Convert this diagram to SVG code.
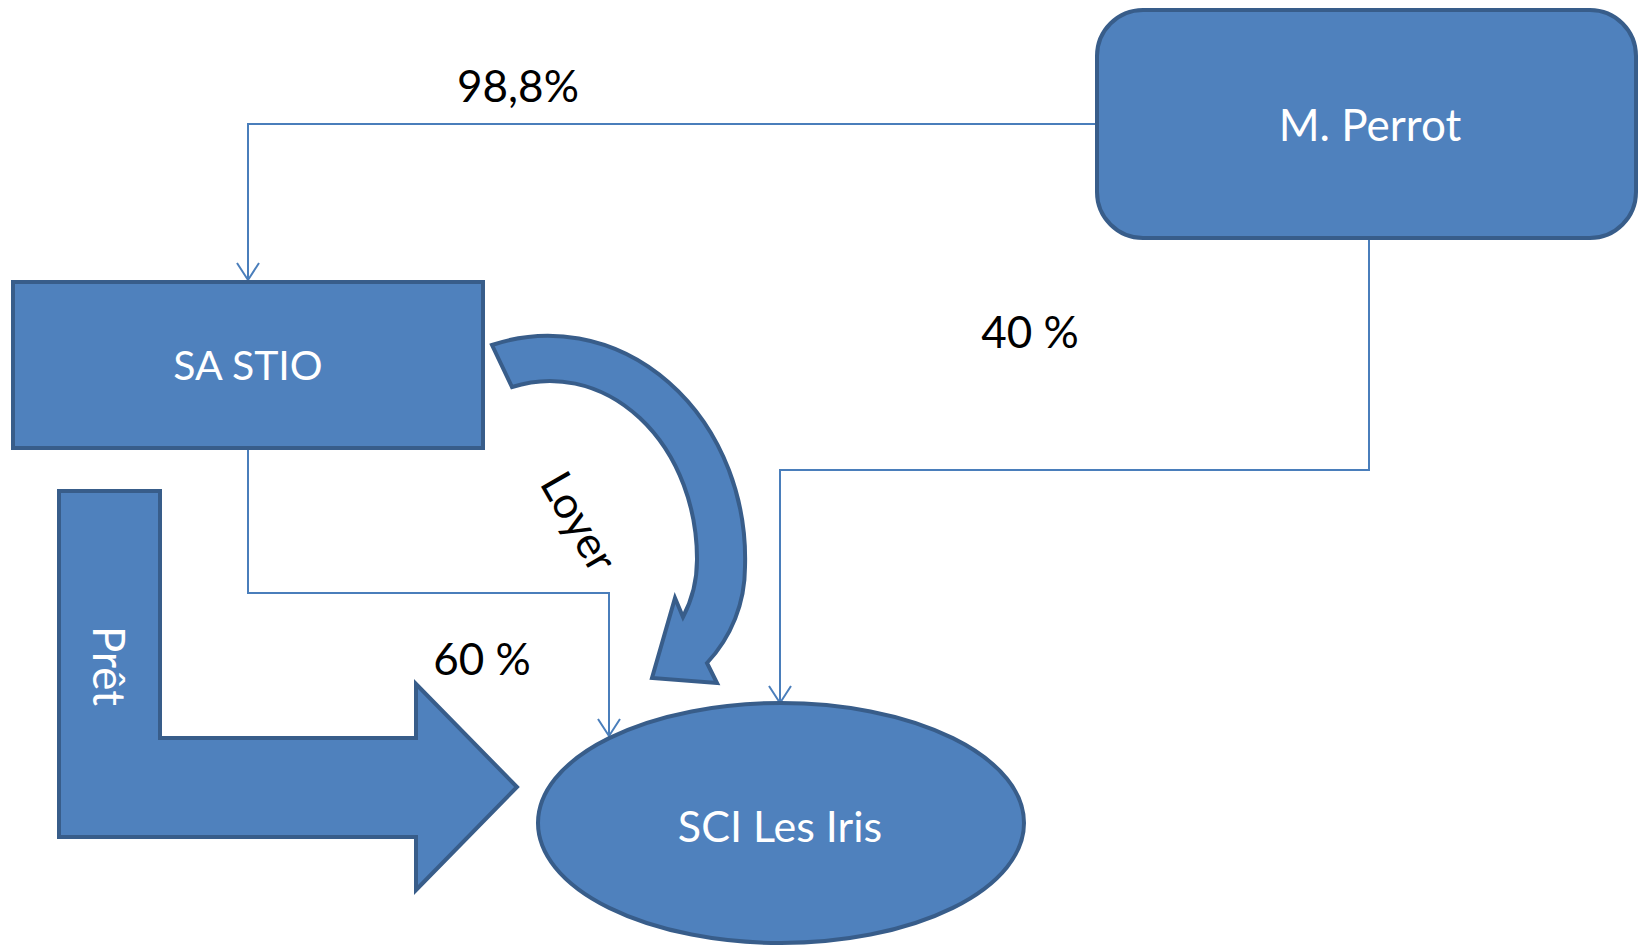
<svg xmlns="http://www.w3.org/2000/svg" width="1638" height="945" viewBox="0 0 1638 945">
  <style>
    .shape { fill: #4F81BD; stroke: #385D8A; stroke-width: 4; stroke-linejoin: miter; }
    .inner { font-family: Lato, "Open Sans", "Liberation Sans", sans-serif; font-size: 44px; fill: #FFFFFF; text-anchor: middle; }
    .label { font-family: Lato, "Open Sans", "Liberation Sans", sans-serif; font-size: 44px; fill: #000000; text-anchor: middle; }
    .link { fill: none; stroke: #4A7EBB; stroke-width: 2; }
  </style>
  <defs>
    <marker id="open-arrow" markerUnits="userSpaceOnUse" markerWidth="24" markerHeight="24" viewBox="0 0 20 24" refX="18" refY="12" orient="auto">
      <path d="M1,1 L18,12 L1,23" fill="none" stroke="#4A7EBB" stroke-width="2"/>
    </marker>
  </defs>
  <rect width="1638" height="945" fill="#FFFFFF"/>

  <!-- ownership links -->
  <g id="connectors">
    <path class="link" d="M1097,124 H248 V280" marker-end="url(#open-arrow)"/>
    <path class="link" d="M248,449 V593 H609 V736" marker-end="url(#open-arrow)"/>
    <path class="link" d="M1369,238 V470 H780 V703" marker-end="url(#open-arrow)"/>
    <text class="label" x="518" y="102">98,8%</text>
    <text class="label" x="1030" y="348">40 %</text>
    <text class="label" x="482" y="675">60 %</text>
  </g>

  <g id="m-perrot">
    <rect class="shape" x="1097" y="10" width="539" height="228" rx="46" ry="46"/>
    <text class="inner" x="1370" y="141">M. Perrot</text>
  </g>

  <g id="sa-stio">
    <rect class="shape" x="13" y="282" width="470" height="166"/>
    <text class="inner" x="248" y="380" style="font-size:41px">SA STIO</text>
  </g>

  <g id="sci-les-iris">
    <ellipse class="shape" cx="781" cy="823" rx="243" ry="120"/>
    <text class="inner" x="780" y="842" style="font-size:43px">SCI Les Iris</text>
  </g>

  <!-- loan: bent arrow -->
  <g id="pret">
    <polygon class="shape" points="59,491 160,491 160,738 416,738 416,684 517,787 416,890 416,837 59,837"/>
    <text class="inner" transform="translate(107,666) rotate(90)" x="0" y="14">Prêt</text>
  </g>

  <!-- rent: curved arrow -->
  <g id="loyer">
    <path class="shape" d="M492,345 A197,223 0 0 1 745,567 A140,140 0 0 1 707,663 L717,683 L652,678 L675,598 L683,617 A123,123 0 0 0 697,560 A147,178 0 0 0 512,387 Z"/>
    <text class="label" transform="translate(577,523) rotate(60)" x="0" y="13">Loyer</text>
  </g>
</svg>
